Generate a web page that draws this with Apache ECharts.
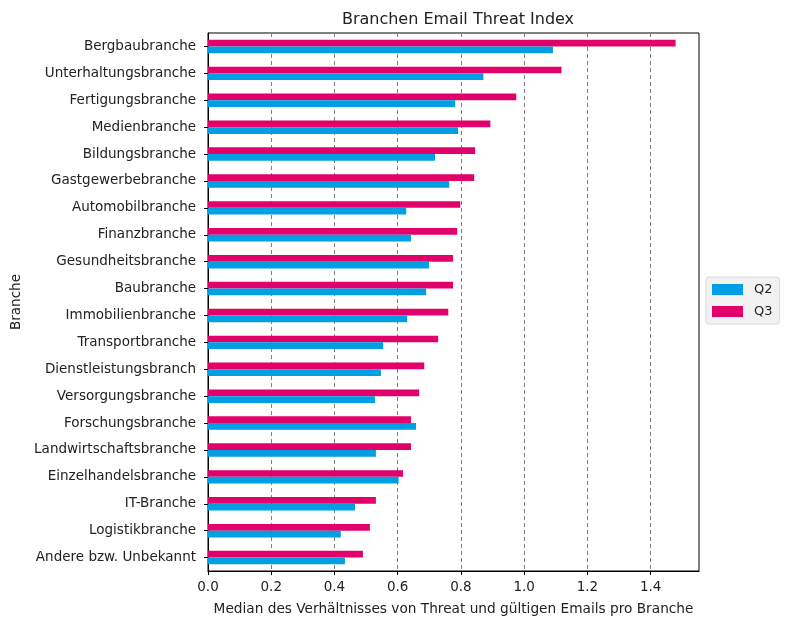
<!DOCTYPE html>
<html><head><meta charset="utf-8">
<script src="https://cdn.jsdelivr.net/npm/echarts@6/dist/echarts.min.js"></script>
<style>html,body{margin:0;padding:0;background:#fff}#c{width:790px;height:625px}</style>
</head><body><div id="c"></div>
<script>
const categories = ["Bergbaubranche","Unterhaltungsbranche","Fertigungsbranche","Medienbranche","Bildungsbranche","Gastgewerbebranche","Automobilbranche","Finanzbranche","Gesundheitsbranche","Baubranche","Immobilienbranche","Transportbranche","Dienstleistungsbranch","Versorgungsbranche","Forschungsbranche","Landwirtschaftsbranche","Einzelhandelsbranche","IT-Branche","Logistikbranche","Andere bzw. Unbekannt"];
const q2 = [1.091,0.871,0.782,0.791,0.718,0.763,0.627,0.642,0.699,0.690,0.630,0.554,0.547,0.528,0.658,0.531,0.603,0.465,0.420,0.433];
const q3 = [1.479,1.118,0.975,0.893,0.845,0.842,0.798,0.788,0.775,0.775,0.760,0.728,0.684,0.668,0.642,0.642,0.617,0.531,0.512,0.490];
const xTicks = [0,0.2,0.4,0.6,0.8,1.0,1.2,1.4];
const FONT = 'DejaVu Sans';
const FS = 13.5;
const chart = echarts.init(document.getElementById('c'));
chart.setOption({
  animation:false,
  textStyle:{fontFamily:FONT},
  title:{text:'Branchen Email Threat Index',left:453,textAlign:'center',top:7,textStyle:{fontFamily:FONT,fontSize:16,fontWeight:'normal',color:'#222'}},
  grid:{left:208,right:91,top:33,bottom:54,show:true,borderColor:'#000',borderWidth:1,backgroundColor:'transparent'},
  legend:{orient:'vertical',left:706,top:277,data:['Q2','Q3'],itemWidth:31,itemHeight:11,itemGap:9,
    backgroundColor:'#f2f2f2',borderColor:'#d8d8d8',borderWidth:1,borderRadius:3,padding:[6,7,6,6],
    textStyle:{fontFamily:FONT,fontSize:13,color:'#222',padding:[0,0,0,6]},icon:'rect'},
  xAxis:{type:'value',min:0,max:1.553,interval:0.2,
    name:'Median des Verhältnisses von Threat und gültigen Emails pro Branche',nameLocation:'middle',nameGap:31,
    nameTextStyle:{fontFamily:FONT,fontSize:13.7,color:'#222'},
    axisLine:{show:true,lineStyle:{color:'#000'}},axisTick:{show:true,length:4,lineStyle:{color:'#000'}},
    axisLabel:{fontFamily:FONT,fontSize:FS,color:'#222',showMaxLabel:false,margin:9,
      formatter:v=>{const m=xTicks.find(t=>Math.abs(t-v)<1e-6);return m===undefined?'':m.toFixed(1);}},
    splitLine:{show:true,lineStyle:{color:'#808080',type:[4,3],width:1}}},
  yAxis:{type:'category',data:categories,inverse:true,
    name:'Branche',nameLocation:'middle',nameGap:184,nameRotate:90,
    nameTextStyle:{fontFamily:FONT,fontSize:FS,color:'#222'},
    axisLine:{show:true,lineStyle:{color:'#000'}},axisTick:{show:true,alignWithLabel:true,length:4,lineStyle:{color:'#000'}},
    axisLabel:{fontFamily:FONT,fontSize:FS,color:'#222',margin:12}},
  series:[
    {name:'Q3',type:'bar',data:q3,barWidth:'25%',barGap:'0%',itemStyle:{color:'#e2006a'}},
    {name:'Q2',type:'bar',data:q2,barWidth:'25%',barGap:'0%',itemStyle:{color:'#009fe3'}}
  ]
});
</script></body></html>
